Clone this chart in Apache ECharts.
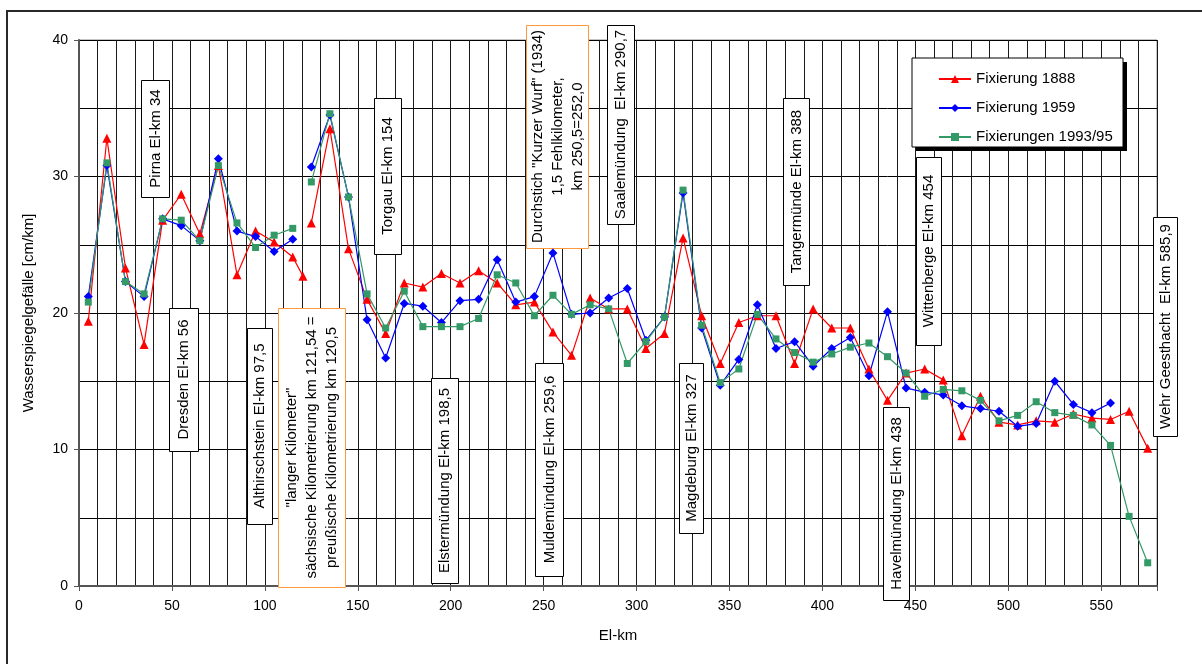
<!DOCTYPE html>
<html>
<head>
<meta charset="utf-8">
<script src="https://cdn.jsdelivr.net/npm/echarts@6/dist/echarts.min.js"></script>
<style>
html,body{margin:0;padding:0;background:#fff;}
#c{width:1202px;height:664px;}
</style>
</head>
<body>
<div id="c"></div>
<script>
// ---- data (El-km, cm/km) ----
// Saxon stretch (upstream of the "langer Kilometer")
const kmUp = [5, 15, 25, 35, 45, 55, 65, 75, 85, 95, 105, 115];
const kmRed1888Extra = [120.5];
// Prussian stretch
const kmDown = [125, 135, 145, 155, 165, 175, 185, 195, 205, 215,
                225, 235, 245, 255, 265, 275, 285, 295, 305, 315,
                325, 335, 345, 355, 365, 375, 385, 395, 405, 415,
                425, 435, 445, 455, 465, 475, 485, 495, 505, 515,
                525, 535, 545, 555, 565, 575];

const red1888Up = [19.4, 32.8, 23.3, 17.7, 26.8, 28.7, 25.8, 30.8, 22.8, 26.0, 25.2, 24.1];
const red1888Extra = [22.7];
const red1888Down = [26.6, 33.5, 24.7, 21.0, 18.5, 22.2, 21.9, 22.9, 22.2, 23.1,
                     22.2, 20.6, 20.8, 18.6, 16.9, 21.1, 20.3, 20.3, 17.4, 18.5,
                     25.5, 19.8, 16.3, 19.3, 19.8, 19.8, 16.3, 20.3, 18.9, 18.9,
                     15.9, 13.6, 15.6, 15.9, 15.1, 11.0, 13.9, 12.0, 11.8, 12.1,
                     12.0, 12.6, 12.3, 12.2, 12.8, 10.1];

const blue1959Up = [21.2, 30.8, 22.3, 21.2, 26.9, 26.4, 25.3, 31.3, 26.0, 25.6, 24.5, 25.4];
const blue1959Down = [30.7, 34.5, 28.5, 19.5, 16.7, 20.7, 20.5, 19.3, 20.9, 21.0,
                      23.9, 20.8, 21.2, 24.4, 19.9, 20.0, 21.1, 21.8, 18.0, 19.7,
                      28.8, 18.9, 14.7, 16.6, 20.6, 17.4, 17.9, 16.1, 17.4, 18.2,
                      15.4, 20.1, 14.5, 14.2, 14.0, 13.2, 13.0, 12.8, 11.7, 11.9,
                      15.0, 13.3, 12.7, 13.4, null, null];

const green1993Up = [20.8, 31.0, 22.3, 21.4, 26.9, 26.8, 25.3, 30.8, 26.6, 24.8, 25.7, 26.2];
const green1993Down = [29.6, 34.6, 28.5, 21.4, 18.9, 21.6, 19.0, 19.0, 19.0, 19.6,
                       22.8, 22.2, 19.8, 21.3, 19.9, 20.6, 20.3, 16.3, 17.9, 19.7,
                       29.0, 19.1, 14.9, 15.9, 19.9, 18.1, 17.1, 16.4, 17.0, 17.5,
                       17.8, 16.8, 15.6, 13.9, 14.4, 14.3, 13.6, 12.1, 12.5, 13.5,
                       12.7, 12.5, 11.8, 10.3, 5.1, 1.7];

const seriesNames = ['Fixierung 1888', 'Fixierung 1959', 'Fixierungen 1993/95'];
const yTicks = [0, 10, 20, 30, 40];
const xTicks = [0, 50, 100, 150, 200, 250, 300, 350, 400, 450, 500, 550];

const annotations = [
  {text: 'Pirna El-km 34', box: [141, 80, 28, 117]},
  {text: 'Dresden El-km 56', box: [169, 308, 29, 143]},
  {text: 'Althirschstein El-km 97,5', box: [247, 328, 25, 196]},
  {text: '"langer Kilometer"\nsächsische Kilometrierung km 121,54 =\npreußische Kilometrierung km 120,5', box: [278, 308, 67, 279], orange: true},
  {text: 'Torgau El-km 154', box: [374, 98, 27, 156]},
  {text: 'Elstermündung El-km 198,5', box: [431, 378, 27, 205]},
  {text: 'Durchstich "Kurzer Wurf" (1934)\n1,5 Fehlkilometer,\nkm 250,5=252,0', box: [526, 25, 62, 223], orange: true},
  {text: 'Muldemündung El-km 259,6', box: [535, 363, 28, 213]},
  {text: 'Saalemündung  El-km 290,7', box: [607, 25, 27, 199]},
  {text: 'Magdeburg El-km 327', box: [679, 363, 24, 170]},
  {text: 'Tangermünde El-km 388', box: [783, 98, 26, 187]},
  {text: 'Havelmündung El-km 438', box: [883, 407, 26, 193]},
  {text: 'Wittenberge El-km 454', box: [916, 157, 25, 188]},
  {text: 'Wehr Geesthacht  El-km 585,9', box: [1153, 217, 24, 219]}
];

// ---- build ----
const FONT = '"Liberation Sans", Arial, sans-serif';
function pairs(xs, ys) {
  return xs.map((x, i) => [x, ys[i] == null ? '-' : ys[i]]);
}
const GAP = [['-', '-']];
const redData = pairs(kmUp, red1888Up).concat(pairs(kmRed1888Extra, red1888Extra), GAP, pairs(kmDown, red1888Down));
const blueData = pairs(kmUp, blue1959Up).concat(GAP, pairs(kmDown, blue1959Down));
const greenData = pairs(kmUp, green1993Up).concat(GAP, pairs(kmDown, green1993Down));

const graphics = [
  {type: 'rect', shape: {x: 7, y: 11, width: 1260, height: 720}, style: {fill: 'none', stroke: '#2a2a2a', lineWidth: 2}, z: 0, silent: true},
  {type: 'rect', shape: {x: 916, y: 62, width: 211, height: 89}, style: {fill: '#000'}, z: 3, silent: true},
  {type: 'rect', shape: {x: 912, y: 58, width: 211, height: 89}, style: {fill: '#fff', stroke: '#000', lineWidth: 1}, z: 3, silent: true}
];
annotations.forEach(a => {
  const [x, y, w, h] = a.box;
  graphics.push({type: 'rect', shape: {x: x + 0.5, y: y + 0.5, width: w, height: h},
    style: {fill: '#fff', stroke: a.orange ? '#FF9A3C' : '#000', lineWidth: 1}, z: 1, silent: true});
  graphics.push({type: 'text', x: x + w / 2 + 0.5, y: y + h / 2, rotation: Math.PI / 2,
    style: {text: a.text, fill: '#000', font: '15px ' + FONT, fontSize: 15, fontFamily: FONT,
      align: 'center', verticalAlign: 'middle', textAlign: 'center', textVerticalAlign: 'middle', lineHeight: 20},
    z: 1, silent: true});
});

const lineSeries = (name, data, color, symbol, size) => ({
  name, type: 'line', data, color,
  symbol, symbolSize: size, showSymbol: true, connectNulls: false,
  lineStyle: {color, width: 1.2}, itemStyle: {color},
  emphasis: {disabled: true}, animation: false, z: 2
});

const chart = echarts.init(document.getElementById('c'), null, {renderer: 'canvas'});
chart.setOption({
  backgroundColor: '#fff',
  animation: false,
  grid: {left: 79, top: 40, right: 45, bottom: 78, show: true, borderColor: '#8a8a8a', borderWidth: 1, backgroundColor: '#fff'},
  xAxis: {
    type: 'value', min: 0, max: 580, interval: 50,
    name: 'El-km', nameLocation: 'middle', nameGap: 42,
    nameTextStyle: {fontSize: 15, color: '#000', fontFamily: FONT},
    axisLine: {show: true, lineStyle: {color: '#555', width: 2}},
    axisTick: {show: true, inside: false, length: 5, lineStyle: {color: '#555', width: 1}},
    axisLabel: {fontSize: 14, color: '#000', fontFamily: FONT, margin: 13,
      formatter: v => xTicks.includes(v) ? String(v) : ''},
    splitLine: {show: true, lineStyle: {color: '#1a1a1a', width: 1}},
    minorTick: {show: false, splitNumber: 5},
    minorSplitLine: {show: true, lineStyle: {color: '#1a1a1a', width: 1}}
  },
  yAxis: {
    type: 'value', min: 0, max: 40, interval: 10,
    name: 'Wasserspiegelgefälle [cm/km]', nameLocation: 'middle', nameGap: 43, nameRotate: 90,
    nameTextStyle: {fontSize: 15, color: '#000', fontFamily: FONT},
    axisLine: {show: true, lineStyle: {color: '#555', width: 2}},
    axisTick: {show: true, inside: false, length: 5, lineStyle: {color: '#555', width: 1}},
    axisLabel: {fontSize: 14, color: '#000', fontFamily: FONT, margin: 11,
      formatter: v => yTicks.includes(v) ? String(v) : ''},
    splitLine: {show: true, lineStyle: {color: '#000', width: 1}},
    minorTick: {show: false, splitNumber: 2},
    minorSplitLine: {show: true, lineStyle: {color: '#000', width: 1}}
  },
  legend: {
    show: true, orient: 'vertical', left: 933, top: 65,
    itemWidth: 32, itemHeight: 10, itemGap: 11,
    textStyle: {fontSize: 15, color: '#000', fontFamily: FONT, lineHeight: 18},
    data: seriesNames, selectedMode: false, z: 4
  },
  graphic: {elements: graphics},
  series: [
    lineSeries(seriesNames[0], redData, '#FF0000', 'triangle', 9),
    lineSeries(seriesNames[1], blueData, '#0000FF', 'diamond', 9),
    lineSeries(seriesNames[2], greenData, '#339966', 'rect', 7)
  ]
});
</script>
</body>
</html>
